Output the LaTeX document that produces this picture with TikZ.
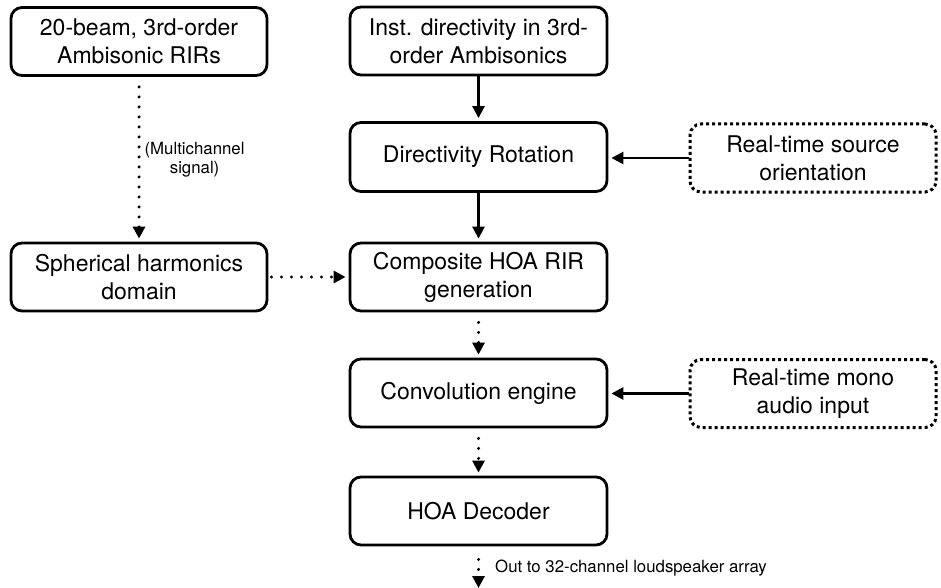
\documentclass[tikz,border=0pt]{standalone}
\usepackage{fontspec}
\setmainfont{TeX Gyre Heros}
\usetikzlibrary{arrows.meta}
\begin{document}
\begin{tikzpicture}[x=1pt,y=-1pt,
 box/.style={draw, line width=2.8pt, rounded corners=11pt, minimum width=256pt, minimum height=68pt, inner sep=0pt, align=center, font=\fontsize{23}{28}\selectfont},
 midbox/.style={box, minimum width=257pt},
 dbox/.style={box, dash pattern=on 3pt off 3pt, line width=3pt, minimum width=246pt},
 arr/.style={line width=2.6pt, -{Triangle[length=12pt,width=12pt]}, shorten >=3pt},
 dotarr/.style={arr, line width=3.3pt, line cap=round, dash pattern=on 0pt off 10pt},
 lbl/.style={font=\fontsize{16.8}{19}\selectfont, inner sep=0pt, align=center}
]
\useasboundingbox (0,0) rectangle (941,588);
\node[box] (A) at (139,41.5) {20-beam, 3rd-order\\Ambisonic RIRs};
\node[midbox] (B) at (478.5,41) {Inst. directivity in 3rd-\\order Ambisonics};
\node[midbox, minimum height=69pt] (C) at (478.5,157) {Directivity Rotation};
\node[midbox] (D) at (478.5,277) {Composite HOA RIR\\generation};
\node[box] (E) at (139,277) {Spherical harmonics\\domain};
\node[midbox] (F) at (478.5,393) {Convolution engine};
\node[midbox] (G) at (478.5,511) {HOA Decoder};
\node[dbox] (H) at (813,158) {Real-time source\\orientation};
\node[dbox] (I) at (813,393.5) {Real-time mono\\audio input};
\coordinate (out) at (478.5,588);
\node[lbl, anchor=west] (outlbl) at (495,568) {Out to 32-channel loudspeaker array};

\draw[arr] (B) -- (C);
\draw[arr] (C) -- (D);
\draw[dotarr, shorten <=10pt] (A) -- (E) node[midway, right=4pt, lbl] {(Multichannel\\signal)};
\draw[dotarr, shorten <=3pt] (E) -- (D);
\draw[dotarr, shorten <=10pt] (D) -- (F);
\draw[dotarr, shorten <=10pt] (F) -- (G);
\draw[dotarr, shorten <=13pt, shorten >=0pt] (G) -- (out);
\draw[arr] (H) -- (H -| C.east);
\draw[arr] (I) -- (I -| F.east);
\end{tikzpicture}
\end{document}
